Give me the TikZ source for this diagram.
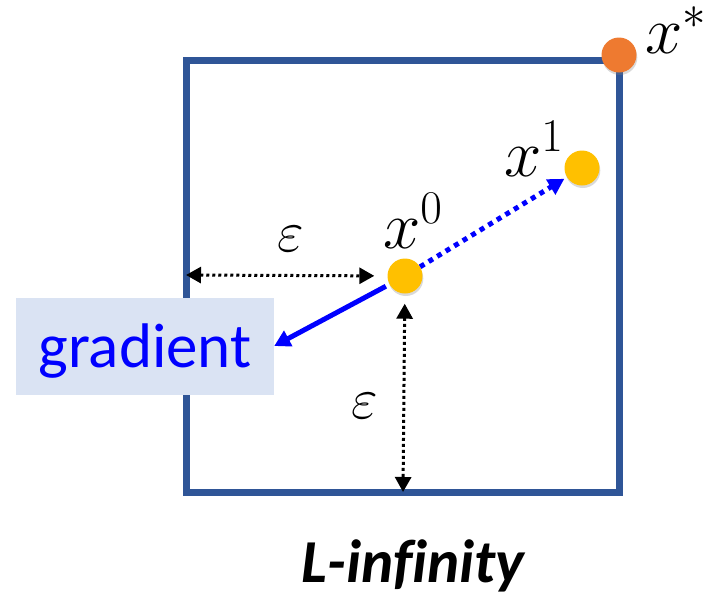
\documentclass[tikz,border=0pt]{standalone}
\usepackage{fix-cm}
\usepackage{fontspec}
\newfontfamily\carlito{Carlito}
\newfontfamily\carlitonolig[Ligatures=CommonOff]{Carlito}
\usetikzlibrary{arrows.meta,shadows}
\definecolor{boxblue}{HTML}{2F5597}
\definecolor{gradfill}{HTML}{DAE3F3}
\definecolor{dotyellow}{HTML}{FFC000}
\definecolor{dotorange}{HTML}{EE7A30}
\definecolor{arrblue}{HTML}{0000FF}
\begin{document}
\begin{tikzpicture}[x=1pt,y=-1pt,
  dotnode/.style={circle,minimum size=35pt,inner sep=0pt,
    drop shadow={opacity=0.3,shadow xshift=0.8pt,shadow yshift=-2.5pt}},
  mathlbl/.style={font=\fontsize{67}{67}\selectfont,inner sep=0pt,anchor=base west},
  epslbl/.style={font=\fontsize{58}{58}\selectfont,inner sep=0pt,anchor=base},
  epsarrow/.style={line width=3pt,dash pattern=on 3pt off 3pt,
    {Triangle[length=15pt,width=16pt]}-{Triangle[length=15pt,width=16pt]}},
  bluearrow/.style={arrblue,line width=5pt,-{Triangle[length=16pt,width=17pt]}},
]
\useasboundingbox (0,0) rectangle (709,600);
% square
\coordinate (sqTL) at (186,60);
\coordinate (sqBR) at (619,492);
\coordinate (sqL) at (186,275);
\coordinate (sqB) at (403,492);
\draw[boxblue,line width=7pt] (sqTL) rectangle (sqBR);
% gradient box
\node[fill=gradfill,minimum width=258pt,minimum height=97pt,inner sep=0pt,
  text height=51pt,text depth=8pt,text=arrblue,
  font=\carlito\fontsize{63}{63}\selectfont] (grad) at (145,346) {gradient};
% dots
\node[dotnode,fill=dotyellow] (x0) at (405,276) {};
\node[dotnode,fill=dotyellow] (x1) at (582,168) {};
\node[dotnode,fill=dotorange] (xs) at (619,55) {};
% labels
\node[mathlbl] (lx0) at (383,248) {$x^{0}$};
\node[mathlbl] (lx1) at (504,176) {$x^{1}$};
\node[mathlbl] (lxs) at (645,53) {$x^{*}$};
\node[epslbl] (eps1) at (291,251) {$\varepsilon$};
\node[epslbl] (eps2) at (365,418) {$\varepsilon$};
% arrows
\draw[epsarrow,shorten >=13pt] (sqL) -- (x0);
\draw[epsarrow,shorten <=10pt] (x0) -- (sqB);
\draw[bluearrow,shorten <=4pt] (x0) -- (grad.east);
\draw[bluearrow,dash pattern=on 5pt off 5pt,shorten >=3pt] (x0) -- (x1);
% title
\node[font=\carlitonolig\bfseries\itshape\fontsize{61}{61}\selectfont,inner sep=0pt,anchor=base] (title) at (413,582) {L-infinity};
\end{tikzpicture}
\end{document}
